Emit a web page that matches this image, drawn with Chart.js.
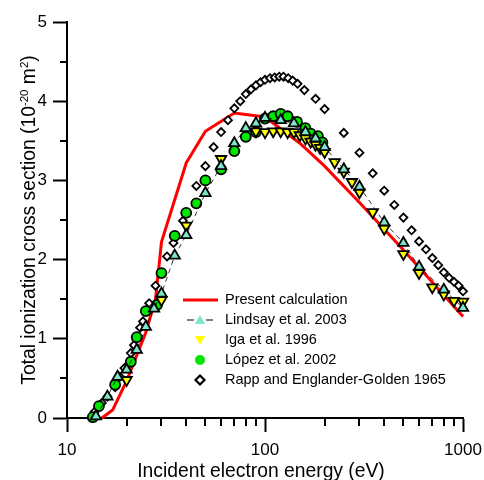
<!DOCTYPE html>
<html>
<head>
<meta charset="utf-8">
<script src="https://cdn.jsdelivr.net/npm/chart.js@4.4.0/dist/chart.umd.min.js"></script>
<style>
html, body { margin: 0; padding: 0; background: #fff; }
#wrap { width: 484px; height: 480px; }
</style>
</head>
<body>
<div id="wrap"><canvas id="grafico" width="484" height="480"></canvas></div>
<script>
// Datos (energia en eV, seccion eficaz en 10^-20 m^2)
const presentE = [15, 17, 20, 25, 28, 30, 40, 50, 70, 100, 150, 200, 300, 500, 1000];
const presentSigma = [0.0, 0.1, 0.47, 1.08, 1.5, 2.22, 3.22, 3.62, 3.85, 3.8, 3.47, 3.18, 2.72, 2.12, 1.28];

const lindsayE = [14, 16, 18, 20, 22.5, 25, 27.5, 30, 35, 40, 50, 60, 70, 80, 90, 100, 120, 140, 160, 180, 200, 250, 300, 400, 500, 600, 800, 1000];
const lindsaySigma = [0.02, 0.27, 0.52, 0.61, 0.86, 1.15, 1.38, 1.57, 2.05, 2.31, 2.84, 3.18, 3.47, 3.66, 3.72, 3.79, 3.76, 3.72, 3.61, 3.53, 3.42, 3.14, 2.92, 2.47, 2.21, 1.91, 1.62, 1.39];

const igaE = [20, 30, 40, 60, 90, 100, 110, 120, 130, 140, 150, 160, 170, 180, 190, 200, 225, 250, 275, 300, 350, 400, 500, 600, 700, 800, 900, 1000];
const igaSigma = [0.48, 1.49, 2.43, 3.27, 3.62, 3.61, 3.62, 3.62, 3.61, 3.61, 3.57, 3.53, 3.49, 3.45, 3.41, 3.36, 3.23, 3.11, 2.98, 2.85, 2.60, 2.39, 2.07, 1.83, 1.65, 1.56, 1.48, 1.47];

const lopezE = [13.5, 14.5, 17.5, 21, 22.5, 25, 28.5, 30, 35, 40, 45, 50, 60, 70, 80, 90, 100, 110, 120, 130, 145, 160, 170, 185, 195];
const lopezSigma = [0.01, 0.15, 0.42, 0.71, 1.02, 1.35, 1.43, 1.83, 2.30, 2.59, 2.71, 3.00, 3.14, 3.37, 3.55, 3.61, 3.78, 3.81, 3.84, 3.81, 3.74, 3.66, 3.59, 3.56, 3.48];

const rappE = [13.8, 15, 16, 17.5, 18.5, 19.5, 21, 21.8, 22.6, 23.4, 24.2, 26, 28, 32, 34.5, 38.5, 45, 50, 55, 60, 65, 70, 75, 80, 85, 90, 95, 100, 106, 112, 118, 124, 131, 138, 146, 158, 180, 200, 250, 300, 350, 400, 450, 500, 550, 600, 650, 700, 750, 800, 850, 900, 950, 1000];
const rappSigma = [0.08, 0.19, 0.27, 0.39, 0.52, 0.63, 0.82, 0.92, 1.02, 1.14, 1.22, 1.45, 1.67, 2.04, 2.21, 2.49, 2.93, 3.18, 3.42, 3.61, 3.76, 3.91, 4.00, 4.09, 4.15, 4.20, 4.24, 4.27, 4.29, 4.30, 4.31, 4.31, 4.29, 4.26, 4.22, 4.14, 4.03, 3.90, 3.60, 3.35, 3.09, 2.87, 2.69, 2.53, 2.37, 2.23, 2.13, 2.02, 1.93, 1.84, 1.77, 1.72, 1.67, 1.60];

const xTicks = [10, 20, 30, 40, 50, 60, 70, 80, 90, 100, 200, 300, 400, 500, 600, 700, 800, 900, 1000];
const xLabels = [10, 100, 1000];
const yTicks = [0, 0.5, 1, 1.5, 2, 2.5, 3, 3.5, 4, 4.5, 5];
const legendLabels = ['Present calculation', 'Lindsay et al. 2003', 'Iga et al. 1996', 'López et al. 2002', 'Rapp and Englander-Golden 1965'];

const FUENTE = '"Liberation Sans", Arial, sans-serif';
Chart.defaults.font.family = FUENTE;
Chart.defaults.color = '#000';

function puntos(xs, ys) {
    return xs.map((x, i) => ({ x: x, y: ys[i] }));
}

// ticks menores (mas cortos que los principales)
const ticksMenores = {
    id: 'ticksMenores',
    afterDraw(chart) {
        const ctx = chart.ctx;
        const sx = chart.scales.x, sy = chart.scales.y;
        ctx.save();
        ctx.strokeStyle = '#000';
        ctx.lineWidth = 2;
        xTicks.forEach(v => {
            if (xLabels.includes(v)) return;
            const px = Math.round(sx.getPixelForValue(v));
            ctx.beginPath();
            ctx.moveTo(px, sx.top);
            ctx.lineTo(px, sx.top + 8);
            ctx.stroke();
        });
        yTicks.forEach(v => {
            if (Number.isInteger(v)) return;
            const py = Math.round(sy.getPixelForValue(v));
            ctx.beginPath();
            ctx.moveTo(sy.right, py);
            ctx.lineTo(sy.right - 7, py);
            ctx.stroke();
        });
        ctx.restore();
    }
};

// titulos de los ejes (con superindices)
const titulos = {
    id: 'titulos',
    afterDraw(chart) {
        const ctx = chart.ctx;
        const sx = chart.scales.x, sy = chart.scales.y;
        ctx.save();
        ctx.fillStyle = '#000';
        ctx.textBaseline = 'alphabetic';
        // eje x
        ctx.font = '19.3px ' + FUENTE;
        ctx.textAlign = 'center';
        ctx.fillText('Incident electron energy (eV)', (sx.left + sx.right) / 2 - 4, 477);
        // eje y
        const partes = [
            ['Total ionization cross section (10', false],
            ['-20', true],
            [' m', false],
            ['2', true],
            [')', false]
        ];
        const fNormal = '19.3px ' + FUENTE, fSup = '11.5px ' + FUENTE;
        let total = 0;
        partes.forEach(p => { ctx.font = p[1] ? fSup : fNormal; total += ctx.measureText(p[0]).width; });
        ctx.translate(35, (sy.top + sy.bottom) / 2);
        ctx.rotate(-Math.PI / 2);
        ctx.textAlign = 'left';
        let x = -total / 2;
        partes.forEach(p => {
            ctx.font = p[1] ? fSup : fNormal;
            ctx.fillText(p[0], x, p[1] ? -7.5 : 0);
            x += ctx.measureText(p[0]).width;
        });
        ctx.restore();
    }
};

// leyenda dentro del area del grafico
const leyenda = {
    id: 'leyenda',
    afterDraw(chart) {
        const ctx = chart.ctx;
        const x0 = 200, y0 = 300, paso = 20, xt = 225;
        ctx.save();
        // linea roja
        ctx.strokeStyle = '#ff0000';
        ctx.lineWidth = 3;
        ctx.beginPath();
        ctx.moveTo(183, y0);
        ctx.lineTo(218, y0);
        ctx.stroke();
        // Lindsay
        let y = y0 + paso;
        ctx.strokeStyle = '#000';
        ctx.lineWidth = 1;
        ctx.beginPath();
        ctx.moveTo(187, y); ctx.lineTo(194, y);
        ctx.moveTo(206, y); ctx.lineTo(213, y);
        ctx.stroke();
        ctx.fillStyle = '#7de6cb';
        Chart.helpers.drawPoint(ctx, { pointStyle: 'triangle', radius: 6, rotation: 0, borderWidth: 0 }, x0, y + 1);
        // Iga
        y += paso;
        ctx.fillStyle = '#ffff00';
        Chart.helpers.drawPoint(ctx, { pointStyle: 'triangle', radius: 6, rotation: 180, borderWidth: 0 }, x0, y - 1);
        // Lopez
        y += paso;
        ctx.fillStyle = '#00e600';
        Chart.helpers.drawPoint(ctx, { pointStyle: 'circle', radius: 5, rotation: 0, borderWidth: 0 }, x0, y);
        // Rapp
        y += paso;
        ctx.fillStyle = '#fff';
        ctx.strokeStyle = '#000';
        ctx.lineWidth = 2.2;
        Chart.helpers.drawPoint(ctx, { pointStyle: 'rectRot', radius: 4.5, rotation: 0, borderWidth: 2.2 }, x0, y);
        // textos
        ctx.fillStyle = '#000';
        ctx.font = '14.5px ' + FUENTE;
        ctx.textAlign = 'left';
        ctx.textBaseline = 'middle';
        legendLabels.forEach((t, i) => ctx.fillText(t, xt, y0 + i * paso));
        ctx.restore();
    }
};

const ctx = document.getElementById('grafico').getContext('2d');
new Chart(ctx, {
    type: 'scatter',
    data: {
        datasets: [
            {
                label: legendLabels[1],
                data: puntos(lindsayE, lindsaySigma),
                showLine: true,
                borderColor: '#000',
                borderWidth: 0.8,
                borderDash: [5, 4],
                pointStyle: 'triangle',
                pointRadius: 6,
                pointBackgroundColor: '#7de6cb',
                pointBorderColor: '#000',
                pointBorderWidth: 1.8,
                clip: false
            },
            {
                label: legendLabels[2],
                data: puntos(igaE, igaSigma),
                pointStyle: 'triangle',
                rotation: 180,
                pointRadius: 6,
                pointBackgroundColor: '#ffff00',
                pointBorderColor: '#000',
                pointBorderWidth: 1.8,
                clip: false
            },
            {
                label: legendLabels[3],
                data: puntos(lopezE, lopezSigma),
                pointStyle: 'circle',
                pointRadius: 5,
                pointBackgroundColor: '#00e600',
                pointBorderColor: '#000',
                pointBorderWidth: 1.8,
                clip: false
            },
            {
                label: legendLabels[4],
                data: puntos(rappE, rappSigma),
                pointStyle: 'rectRot',
                pointRadius: 4,
                pointBackgroundColor: '#fff',
                pointBorderColor: '#000',
                pointBorderWidth: 1.8,
                clip: false
            },
            {
                label: legendLabels[0],
                data: puntos(presentE, presentSigma),
                showLine: true,
                borderColor: '#ff0000',
                borderWidth: 3,
                pointRadius: 0,
                tension: 0,
                clip: false
            }
        ]
    },
    options: {
        responsive: false,
        animation: false,
        events: [],
        layout: { padding: { top: 22, right: 21, left: 0, bottom: 0 } },
        plugins: {
            legend: { display: false },
            tooltip: { enabled: false }
        },
        scales: {
            x: {
                type: 'logarithmic',
                min: 10,
                max: 1000,
                afterBuildTicks: (s) => { s.ticks = xTicks.map(v => ({ value: v })); },
                afterFit: (s) => { s.height = 62; s.paddingLeft = 0; s.paddingRight = 0; },
                ticks: {
                    autoSkip: false,
                    maxRotation: 0,
                    padding: 8,
                    font: { size: 17 },
                    callback: (v) => xLabels.includes(v) ? String(v) : ''
                },
                grid: {
                    drawOnChartArea: false,
                    tickLength: 14,
                    tickWidth: 2,
                    tickColor: (c) => (c.tick && xLabels.includes(c.tick.value)) ? '#000' : 'rgba(0,0,0,0)'
                },
                border: { display: true, color: '#000', width: 2 }
            },
            y: {
                type: 'linear',
                min: 0,
                max: 5,
                afterBuildTicks: (s) => { s.ticks = yTicks.map(v => ({ value: v })); },
                afterFit: (s) => { s.width = 67; s.paddingTop = 0; s.paddingBottom = 0; },
                ticks: {
                    autoSkip: false,
                    padding: 6,
                    font: { size: 17 },
                    callback: (v) => Number.isInteger(v) ? String(v) : ''
                },
                grid: {
                    drawOnChartArea: false,
                    tickLength: 14,
                    tickWidth: 2,
                    tickColor: (c) => (c.tick && Number.isInteger(c.tick.value)) ? '#000' : 'rgba(0,0,0,0)'
                },
                border: { display: true, color: '#000', width: 2 }
            }
        }
    },
    plugins: [ticksMenores, titulos, leyenda]
});
</script>
</body>
</html>
